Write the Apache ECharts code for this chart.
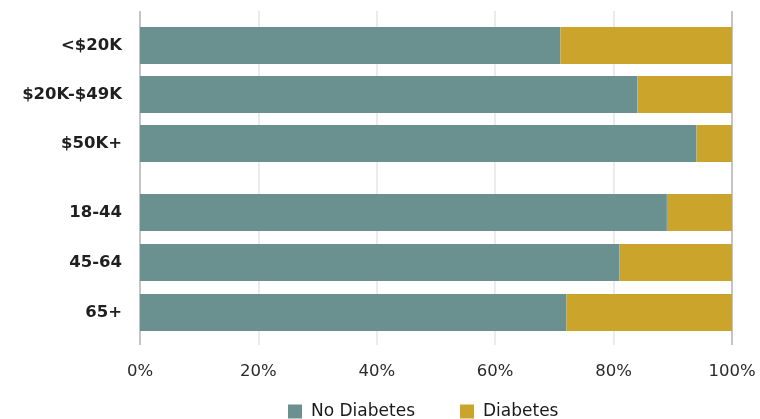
<!DOCTYPE html>
<html>
<head>
<meta charset="utf-8">
<script src="https://cdn.jsdelivr.net/npm/echarts@6/dist/echarts.min.js"></script>
<style>
  html, body { margin: 0; padding: 0; background: #fff; }
  #chart { width: 760px; height: 419px; }
</style>
</head>
<body>
<div id="chart"></div>
<script>
// income groups (top block) and age groups (bottom block)
const incomeCats = ['<$20K', '$20K-$49K', '$50K+']
const incomeNo = [71, 84, 94]
const incomeYes = [29, 16, 6]

const ageCats = ['18-44', '45-64', '65+']
const ageNo = [89, 81, 72]
const ageYes = [11, 19, 28]

const xTicks = [0, 20, 40, 60, 80, 100]

const colors = {
  teal: '#6a9190',
  gold: '#cba52b'
}

const chart = echarts.init(document.getElementById('chart'))

const catAxis = (gridIndex, data) => ({
  type: 'category',
  gridIndex,
  data,
  inverse: true,
  axisLine: { show: false },
  axisTick: { show: false },
  axisLabel: {
    margin: 18,
    fontFamily: 'DejaVu Sans',
    fontWeight: 'bold',
    fontSize: 16.5,
    color: '#1f1f1f'
  }
})

const hiddenX = gridIndex => ({
  type: 'value',
  gridIndex,
  min: xTicks[0],
  max: xTicks[xTicks.length - 1],
  show: false
})

const bar = (name, gridIndex, data, color) => ({
  name,
  type: 'bar',
  stack: 'g' + gridIndex,
  xAxisIndex: gridIndex,
  yAxisIndex: gridIndex,
  barWidth: 37,
  data,
  itemStyle: { color },
  emphasis: { disabled: true },
  animation: false
})

const option = {
  backgroundColor: '#fff',
  animation: false,
  grid: [
    // background grid: only vertical lines and % labels
    { left: 140, right: 28, top: 11, bottom: 74 },
    { left: 140, right: 28, top: 21, height: 147 },
    { left: 140, right: 28, top: 187.5, height: 150 }
  ],
  xAxis: [
    {
      type: 'value',
      gridIndex: 0,
      min: xTicks[0],
      max: xTicks[xTicks.length - 1],
      interval: 20,
      axisLine: { show: false },
      axisTick: { show: false },
      axisLabel: {
        margin: 18,
        formatter: '{value}%',
        fontFamily: 'DejaVu Sans',
        fontSize: 16.5,
        color: '#2a2a2a'
      },
      splitLine: {
        show: true,
        lineStyle: {
          width: 2,
          color: ['#c4c4c4', '#ebebeb', '#ebebeb', '#ebebeb', '#ebebeb', '#c4c4c4']
        }
      }
    },
    hiddenX(1),
    hiddenX(2)
  ],
  yAxis: [
    { type: 'value', gridIndex: 0, show: false },
    catAxis(1, incomeCats),
    catAxis(2, ageCats)
  ],
  legend: {
    left: 283,
    top: 398,
    itemWidth: 14,
    itemHeight: 14,
    itemGap: 45,
    icon: 'rect',
    data: ['No Diabetes', 'Diabetes'],
    textStyle: {
      fontFamily: 'DejaVu Sans',
      fontSize: 17,
      color: '#1a1a1a',
      padding: [0, 0, 0, 4]
    }
  },
  series: [
    bar('No Diabetes', 1, incomeNo, colors.teal),
    bar('Diabetes', 1, incomeYes, colors.gold),
    bar('No Diabetes', 2, ageNo, colors.teal),
    bar('Diabetes', 2, ageYes, colors.gold)
  ]
}

chart.setOption(option)
</script>
</body>
</html>
